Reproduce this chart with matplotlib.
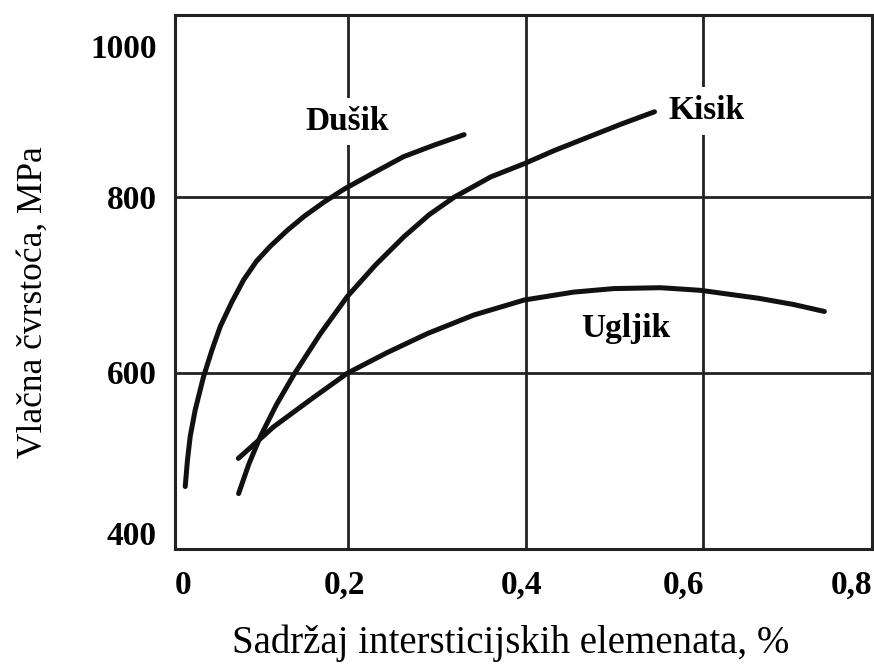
import numpy as np
import matplotlib
matplotlib.use('Agg')
import matplotlib.pyplot as plt
from matplotlib import transforms

# ---- data ----
# Dusik (nitrogen)
dusik_x = [0.0175, 0.020, 0.0231, 0.0287, 0.0381, 0.0475, 0.0569, 0.070, 0.0832, 0.0975,
           0.113, 0.132, 0.151, 0.173, 0.196, 0.230, 0.263, 0.297, 0.331]
dusik_y = [471, 501, 528, 558, 596, 626, 653, 681, 706, 727,
           744, 762, 778, 794, 809, 828, 846, 859, 871]
# Kisik (oxygen)
kisik_x = [0.0775, 0.0888, 0.102, 0.120, 0.1395, 0.1696, 0.1997, 0.2315, 0.2634, 0.2917,
           0.320, 0.361, 0.3986, 0.4325, 0.470, 0.5076, 0.545]
kisik_y = [463, 496, 528, 564, 598, 645, 687, 723, 755, 780,
           800, 823, 838, 853, 868, 883, 897]
# Ugljik (carbon)
ugljik_x = [0.0772, 0.117, 0.160, 0.200, 0.244, 0.290, 0.342, 0.3985, 0.454, 0.499,
            0.552, 0.597, 0.662, 0.701, 0.736]
ugljik_y = [503, 539, 571, 600, 623, 645, 666, 683, 692, 696,
            697, 694, 685, 678, 670]

grid_x = [0.2, 0.4, 0.6]
grid_y = [600, 800]

xtick_pos = [0.015, 0.196, 0.396, 0.578, 0.766]
xtick_lab = ['0', '0,2', '0,4', '0,6', '0,8']
ytick_pos = [972, 800, 601, 418]
ytick_lab = ['1000', '800', '600', '400']

curve_labels = ['Dušik', 'Kisik', 'Ugljik']
curve_lab_xy = [(0.2, 886), (0.603, 898), (0.513, 651)]

serif = 'Liberation Serif'

fig = plt.figure(figsize=(8.74, 6.68), dpi=100)
ax = fig.add_axes([175/874, 1-549/668, 697/874, 534/668])
ax.set_xlim(0.006, 0.7895)
ax.set_ylim(400, 1007)

for g in grid_x:
    ax.axvline(g, color='#222222', lw=2.0, zorder=1)
for g in grid_y:
    ax.axhline(g, color='#222222', lw=2.0, zorder=1)

for xs, ys in [(dusik_x, dusik_y), (kisik_x, kisik_y), (ugljik_x, ugljik_y)]:
    ax.plot(xs, ys, color='#111111', lw=3.6, solid_capstyle='round',
            solid_joinstyle='round', zorder=4)

for lab, (lx, ly) in zip(curve_labels, curve_lab_xy):
    ax.text(lx, ly, lab, family=serif, weight='bold', fontsize=24,
            ha='center', va='center', zorder=3,
            bbox=dict(facecolor='white', edgecolor='none', pad=6))

for s in ax.spines.values():
    s.set_linewidth(2.2)
    s.set_color('#222222')

ax.set_xticks([])
ax.set_yticks(ytick_pos)
ax.set_yticklabels(ytick_lab, family=serif, weight='bold', fontsize=24)
ax.tick_params(axis='y', length=0, pad=13)

trans = transforms.blended_transform_factory(ax.transData, ax.transAxes)
for p, lab in zip(xtick_pos, xtick_lab):
    ax.text(p, -45/534, lab, transform=trans, family=serif, weight='bold',
            fontsize=24, ha='center', va='baseline')

fig.text(33/874, 1-302/668, 'Vlačna čvrstoća, MPa', family=serif, fontsize=25.5,
         rotation=90, ha='center', va='center')
fig.text(511/874, 1-643/668, 'Sadržaj intersticijskih elemenata, %', family=serif,
         fontsize=28, ha='center', va='center')

fig.savefig('out.png', dpi=100)
